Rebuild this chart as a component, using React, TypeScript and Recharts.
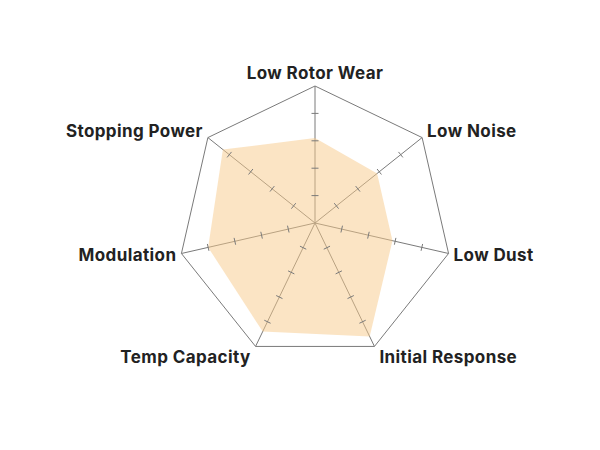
import React from "react";
import { RadarChart, Radar, PolarGrid, PolarAngleAxis, PolarRadiusAxis } from "recharts";

const categories = [
  "Low Rotor Wear",
  "Low Noise",
  "Low Dust",
  "Initial Response",
  "Temp Capacity",
  "Modulation",
  "Stopping Power",
];
const scores = [3.1, 2.9, 2.9, 4.6, 4.4, 4.0, 4.3];
const scaleTicks = [0, 1, 2, 3, 4, 5];

const data = categories.map((name, i) => ({ name, score: scores[i] }));

const CX = 307;
const CY = 215;
const R = 137;
const GRID = "#7a7a7a";

function AngleLabel(props: any) {
  const { payload } = props;
  const a = (payload.coordinate * Math.PI) / 180;
  const c = Math.cos(a);
  const s = Math.sin(a);
  const vx = CX + R * c;
  const vy = CY - R * s;
  let anchor = "middle";
  let dx = 0;
  if (c > 0.1) {
    anchor = "start";
    dx = 5;
  } else if (c < -0.1) {
    anchor = "end";
    dx = -5;
  }
  let dy = 2;
  if (s > 0.9) dy = -13;
  else if (s > 0.3) dy = -7;
  else if (s < -0.5) dy = 11;
  return (
    <text
      x={vx + dx}
      y={vy + dy}
      textAnchor={anchor}
      dominantBaseline="central"
      fontFamily="Inter, 'Open Sans', sans-serif"
      fontWeight={700}
      fontSize={17}
      letterSpacing={0.4}
      fill="#222"
    >
      {payload.value}
    </text>
  );
}

// one radius axis (pointing up); each tick is repeated across every spoke
function RadiusTick(props: any) {
  const { y, payload } = props;
  if (payload.value <= 0 || payload.value >= 5) return <g />;
  const r = CY - y;
  const n = categories.length;
  return (
    <g>
      {categories.map((_, i) => {
        const a = ((90 - (i * 360) / n) * Math.PI) / 180;
        const x0 = CX + r * Math.cos(a);
        const y0 = CY - r * Math.sin(a);
        const px = Math.sin(a) * 3.5;
        const py = Math.cos(a) * 3.5;
        return (
          <line key={i} x1={x0 - px} y1={y0 - py} x2={x0 + px} y2={y0 + py} stroke={GRID} strokeWidth={1} />
        );
      })}
    </g>
  );
}

export default function App() {
  return (
    <div style={{ width: 584, height: 434, background: "#fff" }}>
      <RadarChart
        width={584}
        height={434}
        data={data}
        cx={CX}
        cy={CY}
        outerRadius={R}
        startAngle={90}
        endAngle={-270}
      >
        <PolarGrid gridType="polygon" polarRadius={[R]} stroke={GRID} strokeWidth={1} strokeOpacity={1} />
        <PolarAngleAxis dataKey="name" tick={<AngleLabel />} tickLine={false} axisLine={false} />
        <PolarRadiusAxis
          angle={90}
          domain={[0, 5]}
          ticks={scaleTicks as any}
          tickCount={6}
          axisLine={false}
          tick={<RadiusTick />}
        />
        <Radar
          dataKey="score"
          stroke="none"
          fill="#f7c98a"
          fillOpacity={0.5}
          isAnimationActive={false}
        />
      </RadarChart>
    </div>
  );
}
